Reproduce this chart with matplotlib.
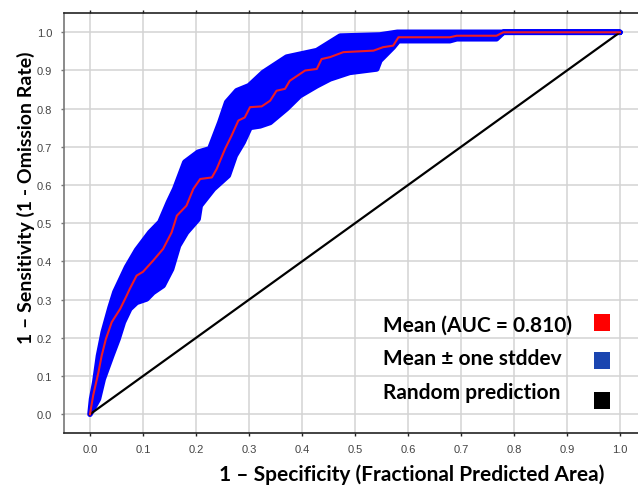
import matplotlib

matplotlib.use("Agg")
import matplotlib.pyplot as plt


# mean ROC curve
mean_fpr = [0.000, 0.006, 0.016, 0.022, 0.030, 0.041, 0.057, 0.069, 0.075, 0.088,
            0.100, 0.119, 0.138, 0.154, 0.164, 0.182, 0.195, 0.208, 0.230, 0.239,
            0.255, 0.267, 0.280, 0.292, 0.302, 0.324, 0.340, 0.352, 0.368, 0.377,
            0.406, 0.428, 0.437, 0.453, 0.478, 0.535, 0.553, 0.572, 0.582, 0.679,
            0.692, 0.767, 0.780, 1.000]
mean_tpr = [0.000, 0.049, 0.110, 0.153, 0.197, 0.241, 0.276, 0.310, 0.328, 0.363,
            0.373, 0.402, 0.433, 0.476, 0.520, 0.546, 0.590, 0.616, 0.620, 0.642,
            0.695, 0.729, 0.769, 0.777, 0.804, 0.806, 0.821, 0.847, 0.852, 0.873,
            0.900, 0.904, 0.930, 0.935, 0.948, 0.952, 0.961, 0.965, 0.987, 0.987,
            0.991, 0.991, 1.000, 1.000]

# upper edge of the +/- one stddev band
upper_fpr = [0.000, 0.003, 0.009, 0.016, 0.025, 0.038, 0.047, 0.069, 0.088, 0.113,
             0.132, 0.148, 0.160, 0.179, 0.204, 0.226, 0.245, 0.258, 0.277, 0.300,
             0.327, 0.371, 0.428, 0.472, 0.547, 0.580, 1.000]
upper_tpr = [0.000, 0.040, 0.084, 0.153, 0.215, 0.280, 0.320, 0.385, 0.430, 0.476,
             0.503, 0.555, 0.590, 0.660, 0.686, 0.695, 0.764, 0.817, 0.847, 0.860,
             0.895, 0.935, 0.952, 0.990, 0.993, 1.000, 1.000]

# lower edge of the band
lower_fpr = [0.000, 0.016, 0.025, 0.041, 0.053, 0.063, 0.075, 0.088, 0.107, 0.119,
             0.138, 0.154, 0.167, 0.182, 0.204, 0.208, 0.233, 0.261, 0.274, 0.289,
             0.302, 0.321, 0.340, 0.371, 0.396, 0.428, 0.453, 0.490, 0.541, 0.547,
             0.572, 0.582, 0.679, 0.692, 0.767, 0.780, 1.000]
lower_tpr = [0.000, 0.040, 0.092, 0.153, 0.197, 0.241, 0.276, 0.293, 0.302, 0.319,
             0.337, 0.380, 0.441, 0.476, 0.511, 0.546, 0.590, 0.625, 0.677, 0.712,
             0.751, 0.755, 0.764, 0.800, 0.834, 0.860, 0.878, 0.895, 0.904, 0.926,
             0.961, 0.978, 0.978, 0.983, 0.983, 1.000, 1.000]

random_fpr = [0.0, 1.0]
random_tpr = [0.0, 1.0]

ticks = [i / 10 for i in range(11)]
tick_labels = [f"{t:.1f}" for t in ticks]

legend_labels = ["Mean (AUC = 0.810)", "Mean \u00b1 one stddev", "Random prediction"]
legend_colors = ["#ff0000", "#1a45b0", "#000000"]

W, H = 638, 489
fig = plt.figure(figsize=(W / 100, H / 100), dpi=100)
ax = fig.add_axes([64 / W, 1 - 434 / H, 574 / W, 420 / H])

band_x = upper_fpr + lower_fpr[::-1]
band_y = upper_tpr + lower_tpr[::-1]
ax.fill(band_x, band_y, facecolor="#0000ff", edgecolor="#0000ff", linewidth=4,
        joinstyle="round", zorder=3)
ax.plot(mean_fpr, mean_tpr, color="#ee1c25", linewidth=1.5, zorder=4)
ax.plot(random_fpr, random_tpr, color="black", linewidth=1.6, zorder=3)

ax.set_xlim(-0.049, 1.034)
ax.set_ylim(-0.049, 1.0505)
ax.set_xticks(ticks)
ax.set_yticks(ticks)
ax.set_xticklabels(tick_labels)
ax.set_yticklabels(tick_labels)
ax.grid(True, color="#d3d3d3", linewidth=1.1)
ax.set_axisbelow(True)

ax.spines["right"].set_visible(False)
for side in ("top", "bottom", "left"):
    ax.spines[side].set_color("#222222")
    ax.spines[side].set_linewidth(1.2)
ax.spines["left"].set_color("#777777")

ax.tick_params(axis="x", which="both", top=True, bottom=True, direction="out",
               length=2.2, width=1, color="#222222", pad=5.5, labelsize=8,
               labelcolor="#444444")
ax.tick_params(axis="y", direction="out", length=2.2, width=1, color="#777777",
               pad=6.4, labelsize=8, labelcolor="#444444")
for lab in ax.get_xticklabels() + ax.get_yticklabels():
    lab.set_family("Liberation Sans")

label_font = dict(family="Lato", fontweight="bold", color="black")
fig.text(412 / W, 1 - 475 / H, "1 \u2013 Specificity (Fractional Predicted Area)",
         ha="center", va="center", fontsize=15, **label_font)
fig.text(26 / W, 1 - 198 / H, "1 \u2013 Sensitivity (1 - Omission Rate)",
         ha="center", va="center", rotation=90, fontsize=14, **label_font)

# legend entries: texts left-aligned, colour squares at the right
text_rows = [326, 359, 393]
square_rows = [324, 362, 402]
for lab, col, ty, sy in zip(legend_labels, legend_colors, text_rows, square_rows):
    fig.text(383 / W, 1 - ty / H, lab, ha="left", va="center", fontsize=15, **label_font)
    fig.patches.append(plt.Rectangle((594 / W, 1 - (sy + 8) / H), 16 / W, 17 / H,
                                     transform=fig.transFigure, facecolor=col,
                                     edgecolor="none", figure=fig))

fig.savefig("out.png", dpi=100)
